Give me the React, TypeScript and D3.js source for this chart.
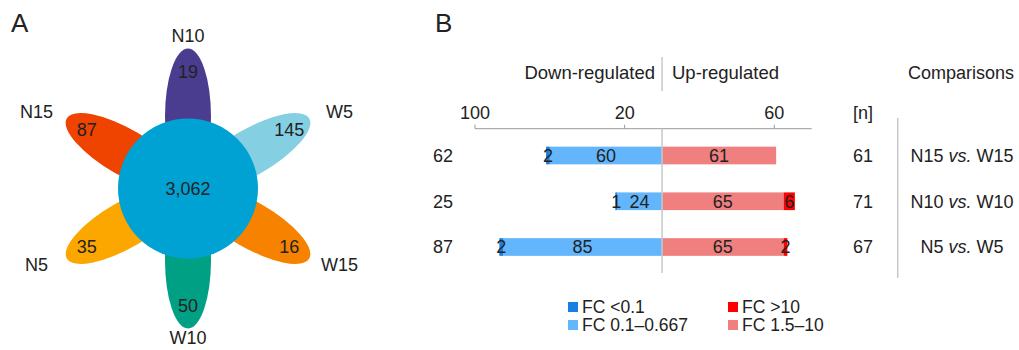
import React from 'react';
import * as d3 from 'd3';

// panel A - flower diagram
const groups = ['N10', 'W5', 'W15', 'W10', 'N5', 'N15'];
const groupAngles = [-90, -30, 30, 90, 150, 210];
const uniqueCounts = [19, 145, 16, 50, 35, 87];
const petalColors = ['#4a3d8f', '#84d0e2', '#f68200', '#00a084', '#fca600', '#ef4300'];
const sharedCount = 3062;

// panel B - diverging bars
const comparisons = ['N15 vs. W15', 'N10 vs. W10', 'N5 vs. W5'];
const downStrong = [2, 1, 2]; // FC <0.1
const downModerate = [60, 24, 85]; // FC 0.1-0.667
const upModerate = [61, 65, 65]; // FC 1.5-10
const upStrong = [0, 6, 2]; // FC >10
const downTicks = [100, 20];
const upTicks = [60];
const legendLabels = ['FC <0.1', 'FC 0.1\u20130.667', 'FC >10', 'FC 1.5\u201310'];
const legendColors = ['#1a7fe2', '#63b6fc', '#ff0000', '#f08080'];

const FONT = '"Liberation Sans", Arial, Helvetica, sans-serif';
const INK = '#222';

function Flower() {
  const cx = 188;
  const cy = 188.5;
  const rad = (a: number) => (a * Math.PI) / 180;
  return (
    <g>
      <text x={11} y={32} fontSize={26} fill={INK}>A</text>
      {groups.map((g, i) => {
        const a = groupAngles[i];
        const px = cx + 72 * Math.cos(rad(a));
        const py = cy + 72 * Math.sin(rad(a));
        return (
          <ellipse key={g} cx={px} cy={py} rx={68} ry={23} fill={petalColors[i]}
            transform={`rotate(${a} ${px} ${py})`} />
        );
      })}
      <circle cx={cx} cy={cy} r={70} fill="#00a2d4" />
      <text x={cx} y={cy} dy="0.35em" textAnchor="middle" fontSize={18} fill={INK}>
        {d3.format(',')(sharedCount)}
      </text>
      {groups.map((g, i) => {
        const a = rad(groupAngles[i]);
        const s = Math.sin(a);
        // bottom label kept just inside the frame
        const ly = cy + (s > 0.99 ? 149 : 153) * s;
        return (
          <g key={g}>
            <text x={cx + 117 * Math.cos(a)} y={cy + 117 * s} dy="0.35em"
              textAnchor="middle" fontSize={18} fill={INK}>{uniqueCounts[i]}</text>
            <text x={cx + 175 * Math.cos(a)} y={ly} dy="0.35em"
              textAnchor="middle" fontSize={18} fill={INK}>{g}</text>
          </g>
        );
      })}
    </g>
  );
}

function Bars() {
  const x = d3.scaleLinear().domain([-100, 80]).range([475, 811.7]);
  const y = d3.scaleBand<string>().domain(comparisons).range([118.6, 283.9]).padding(0.613);
  const axisY = 128.7;
  const bw = y.bandwidth();
  const ticks = [...downTicks.map((t) => -t), ...upTicks];
  const x0 = x(0);

  const segs = comparisons.flatMap((c, i) => {
    const d1 = downModerate[i];
    const d2 = downStrong[i];
    const u1 = upModerate[i];
    const u2 = upStrong[i];
    return [
      { c, from: 0, to: -d1, v: d1, color: legendColors[1] },
      { c, from: -d1, to: -(d1 + d2), v: d2, color: legendColors[0] },
      { c, from: 0, to: u1, v: u1, color: legendColors[3] },
      { c, from: u1, to: u1 + u2, v: u2, color: legendColors[2] },
    ];
  }).filter((s) => s.v > 0);

  return (
    <g fontSize={18} fill={INK}>
      <text x={435} y={32} fontSize={26}>B</text>
      <text x={655} y={79} textAnchor="end" fontSize={18.5}>Down-regulated</text>
      <text x={672} y={79} fontSize={18.5}>Up-regulated</text>
      <text x={961} y={79} textAnchor="middle">Comparisons</text>
      <line x1={x0} x2={x0} y1={57} y2={91} stroke="#c8c8c8" strokeWidth={1.5} />

      {/* axis */}
      <line x1={x.range()[0]} x2={x.range()[1]} y1={axisY} y2={axisY} stroke="#9a9a9a" />
      {ticks.map((t) => (
        <g key={t} transform={`translate(${x(t)},${axisY})`}>
          <line y1={0} y2={-4} stroke="#9a9a9a" />
          <text y={-10} textAnchor="middle">{Math.abs(t)}</text>
        </g>
      ))}
      <text x={873} y={118.5} textAnchor="end">[n]</text>

      {segs.map((s, k) => (
        <rect key={k} x={Math.min(x(s.from), x(s.to))} y={y(s.c)}
          width={Math.abs(x(s.to) - x(s.from))} height={bw} fill={s.color} />
      ))}
      {segs.map((s, k) => (
        <text key={k} x={(x(s.from) + x(s.to)) / 2} y={(y(s.c) ?? 0) + bw / 2} dy="0.35em"
          textAnchor="middle">{s.v}</text>
      ))}
      <line x1={x0} x2={x0} y1={axisY} y2={273} stroke="#c8c8c8" strokeWidth={1.5} />

      {comparisons.map((c, i) => {
        const cyRow = (y(c) ?? 0) + bw / 2;
        const [a, b] = c.split(' vs. ');
        return (
          <g key={c}>
            <text x={443} y={cyRow} dy="0.35em" textAnchor="middle">{downStrong[i] + downModerate[i]}</text>
            <text x={873} y={cyRow} dy="0.35em" textAnchor="end">{upStrong[i] + upModerate[i]}</text>
            <text x={962} y={cyRow} dy="0.35em" textAnchor="middle">
              {a} <tspan fontStyle="italic">vs.</tspan> {b}
            </text>
          </g>
        );
      })}
      <line x1={897.7} x2={897.7} y1={118} y2={278} stroke="#c8c8c8" strokeWidth={1.5} />

      {legendLabels.map((l, i) => {
        const lx = i < 2 ? 568 : 728;
        const ly = i % 2 === 0 ? 307 : 325;
        return (
          <g key={l}>
            <rect x={lx} y={ly - 5} width={10} height={10} fill={legendColors[i]} />
            <text x={lx + 14} y={ly} dy="0.35em" fontSize={17.5}>{l}</text>
          </g>
        );
      })}
    </g>
  );
}

export default function App() {
  return (
    <svg width={1019} height={350} viewBox="0 0 1019 350"
      style={{ position: 'absolute', left: 0, top: 0, background: '#fff' }}
      fontFamily={FONT}>
      <Flower />
      <Bars />
    </svg>
  );
}
